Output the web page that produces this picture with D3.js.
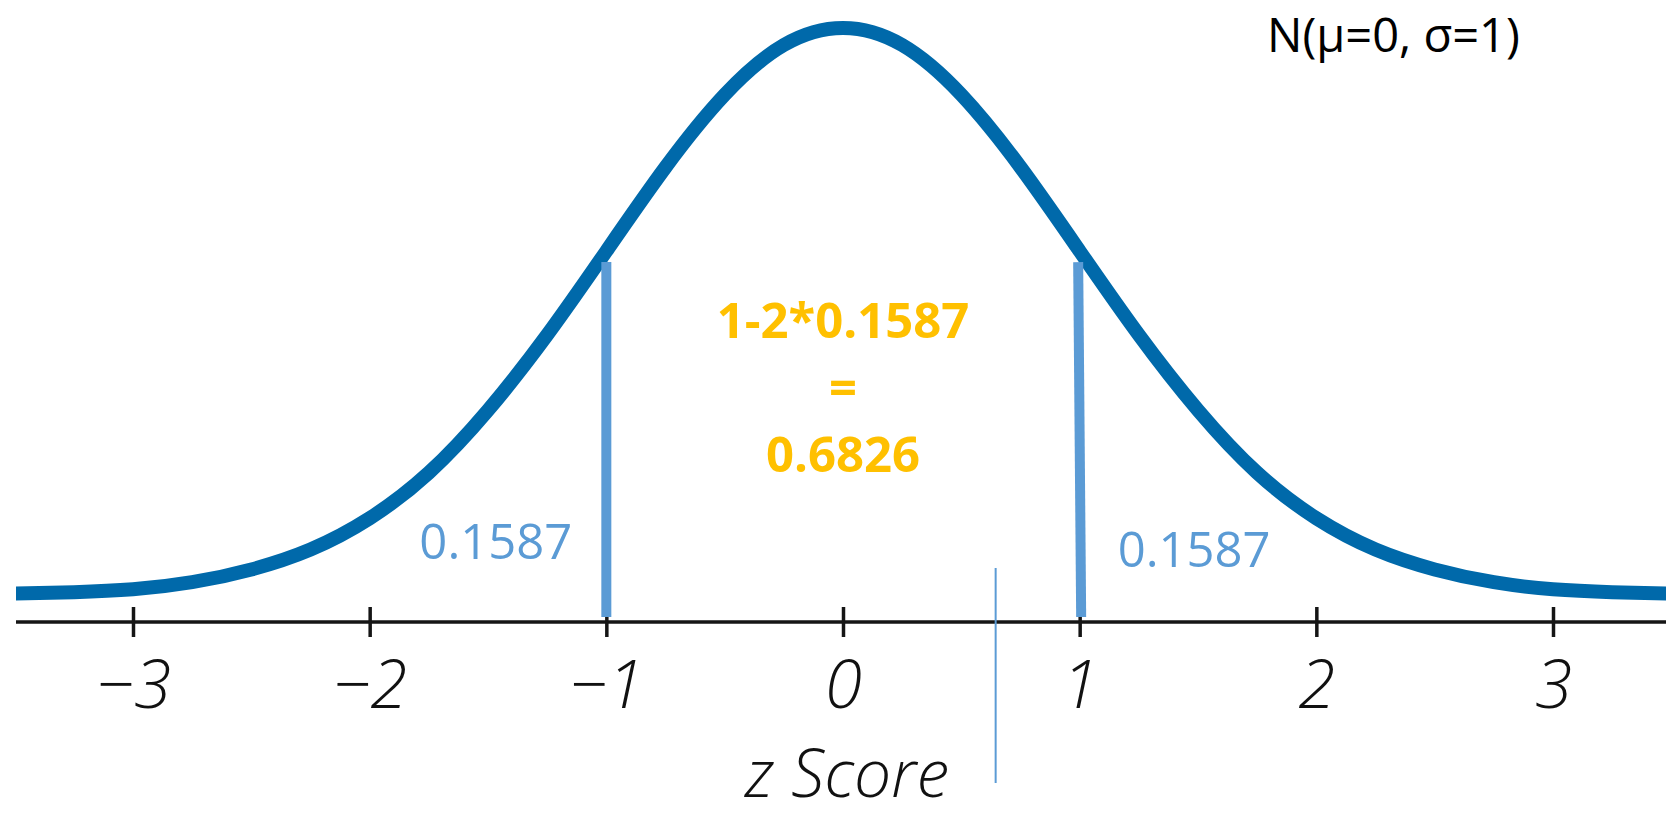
<!DOCTYPE html>
<html>
<head>
<meta charset="utf-8">
<script src="https://cdn.jsdelivr.net/npm/d3@7"></script>
<style>
  html, body { margin: 0; padding: 0; background: #fff; }
  svg { display: block; }
</style>
</head>
<body>
<svg id="chart" width="1666" height="819"></svg>
<script>
// ---- data ----
const zValues = [-3.5, -3.25, -3, -2.75, -2.5, -2.25, -2, -1.75, -1.5, -1.25, -1, -0.75, -0.5, -0.25, 0,
                 0.25, 0.5, 0.75, 1, 1.25, 1.5, 1.75, 2, 2.25, 2.5, 2.75, 3, 3.25, 3.5];
const density = [0.001, 0.002, 0.004, 0.009, 0.018, 0.032, 0.054, 0.086, 0.130, 0.183, 0.242, 0.301, 0.352, 0.387, 0.399,
                 0.387, 0.352, 0.301, 0.242, 0.183, 0.130, 0.086, 0.054, 0.032, 0.018, 0.009, 0.004, 0.002, 0.001];
const tickValues = [-3, -2, -1, 0, 1, 2, 3];
const tickLabels = ["\u22123", "\u22122", "\u22121", "0", "1", "2", "3"];
const cutoffs = [-1, 1];
const cutoffDensity = [0.242, 0.242];
const tailLabels = ["0.1587", "0.1587"];
const centerLines = ["1-2*0.1587", "=", "0.6826"];
const markerZ = [0.645];
const titleText = "N(\u03bc=0, \u03c3=1)";
const axisTitle = "z Score";

// ---- layout ----
const svg = d3.select("#chart");
const axisY = 622;
const x = d3.scaleLinear().domain([-3, 3]).range([133, 1553]);
const y = d3.scaleLinear().domain([0, 0.399]).range([595, 28]);

svg.append("clipPath").attr("id", "clip")
  .append("rect").attr("x", 16).attr("y", 0).attr("width", 1650).attr("height", 819);

// curve
const line = d3.line().x((d, i) => x(zValues[i])).y(d => y(d)).curve(d3.curveNatural);
svg.append("path")
  .attr("clip-path", "url(#clip)")
  .attr("d", line(density))
  .attr("fill", "none")
  .attr("stroke", "#0069aa")
  .attr("stroke-width", 14);

// axis
const axis = d3.axisBottom(x).tickValues(tickValues)
  .tickFormat((d, i) => tickLabels[i]).tickSizeOuter(0).tickSize(15);
const gAxis = svg.append("g").attr("transform", `translate(0,${axisY})`).call(axis);
gAxis.select(".domain").remove();
gAxis.insert("line", ":first-child")
  .attr("x1", 16).attr("x2", 1666).attr("y1", 0).attr("y2", 0)
  .attr("stroke", "#151515").attr("stroke-width", 3.5);
gAxis.selectAll(".tick line").attr("y1", -15).attr("y2", 15)
  .attr("stroke", "#151515").attr("stroke-width", 3.5);
gAxis.selectAll(".tick text")
  .attr("y", 86).attr("dy", 0)
  .attr("fill", "#111")
  .style("font-family", "'Open Sans', 'DejaVu Sans', sans-serif")
  .style("font-style", "italic")
  .style("font-weight", 300)
  .style("font-size", "67px");

// vertical cutoff lines
svg.selectAll("line.cut").data(cutoffs).enter().append("line")
  .attr("class", "cut")
  .attr("x1", (d, i) => x(d) + (i === 1 ? -1.5 : 0))
  .attr("x2", (d, i) => x(d) + (i === 1 ? 1.5 : 0))
  .attr("y1", (d, i) => y(cutoffDensity[i]) + 11)
  .attr("y2", axisY - 5)
  .attr("stroke", "#5b9bd5").attr("stroke-width", 10);

// thin marker line
svg.selectAll("line.marker").data(markerZ).enter().append("line")
  .attr("class", "marker")
  .attr("x1", d => x(d)).attr("x2", d => x(d))
  .attr("y1", 568).attr("y2", 783)
  .attr("stroke", "#5b9bd5").attr("stroke-width", 2);

// tail labels
svg.selectAll("text.tail").data(cutoffs).enter().append("text")
  .attr("class", "tail")
  .attr("x", (d, i) => i === 0 ? x(d) - 34 : x(d) + 38)
  .attr("y", (d, i) => i === 0 ? 559 : 567)
  .attr("text-anchor", (d, i) => i === 0 ? "end" : "start")
  .attr("fill", "#5b9bd5")
  .style("font-family", "'Open Sans', sans-serif")
  .style("font-size", "49px")
  .text((d, i) => tailLabels[i]);

// center annotation
svg.selectAll("text.center").data(centerLines).enter().append("text")
  .attr("class", "center")
  .attr("x", x(0))
  .attr("y", (d, i) => 338 + i * 67)
  .attr("text-anchor", "middle")
  .attr("fill", "#ffc000")
  .style("font-family", "'Open Sans', sans-serif")
  .style("font-weight", 700)
  .style("font-size", "49px")
  .text(d => d);

// title
svg.append("text")
  .attr("x", 1267).attr("y", 52)
  .attr("fill", "#000")
  .style("font-family", "'Open Sans', sans-serif")
  .style("font-size", "47px")
  .text(titleText);

// axis title
svg.append("text")
  .attr("x", 847).attr("y", 797)
  .attr("text-anchor", "middle")
  .attr("fill", "#111")
  .style("font-family", "'Open Sans', sans-serif")
  .style("font-style", "italic")
  .style("font-weight", 300)
  .style("font-size", "66px")
  .text(axisTitle);
</script>
</body>
</html>
